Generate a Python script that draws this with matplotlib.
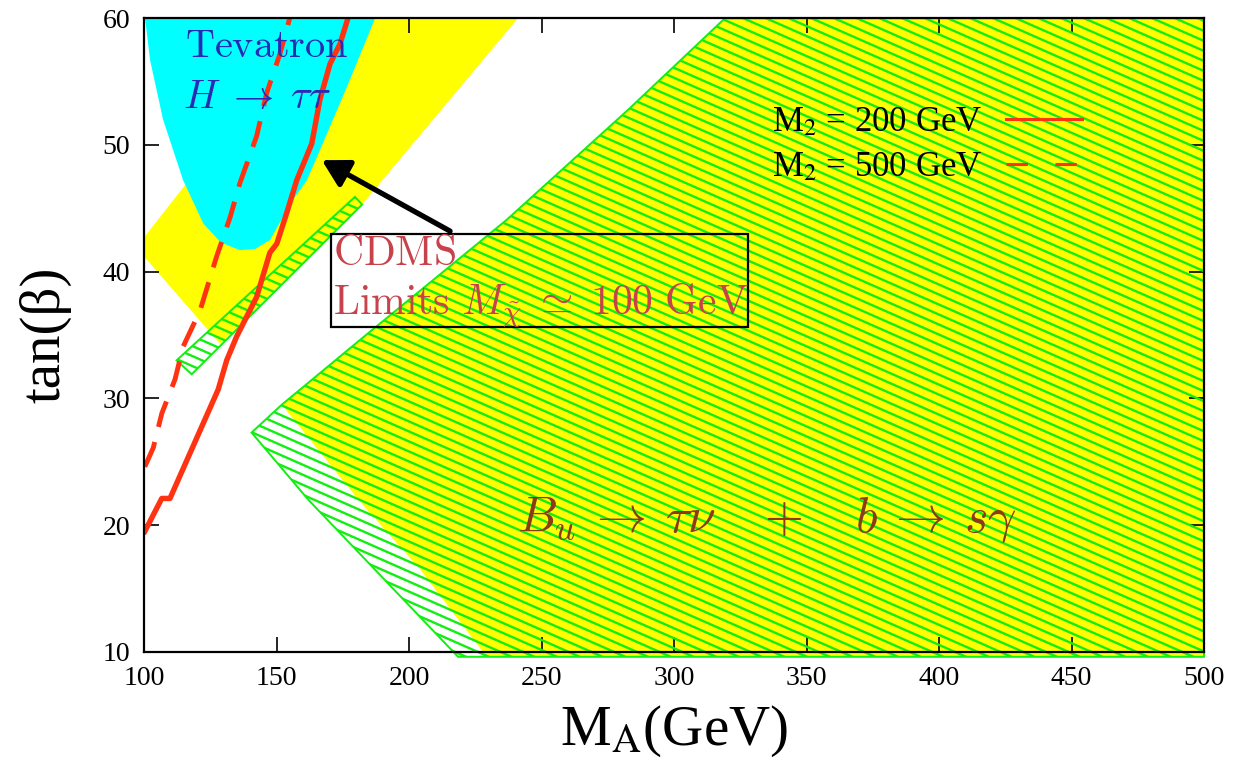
import numpy as np
import matplotlib
matplotlib.use("Agg")
import matplotlib.pyplot as plt
from matplotlib.patches import Polygon, Rectangle
from matplotlib.collections import LineCollection
from matplotlib.lines import Line2D
from matplotlib.font_manager import FontProperties

# ---------------- data ----------------
# Tevatron H -> tau tau excluded region (cyan)
tev_x = [100.4, 102.3, 107.2, 114.8, 122.4, 129.0, 136.2, 142.0, 147.5, 156.3, 161.4, 166.4, 176.6, 187.2]
tev_y = [60.0, 56.7, 52.0, 47.2, 43.8, 42.3, 41.7, 41.8, 42.5, 45.7, 47.2, 49.6, 54.6, 60.0]

# Bu -> tau nu region, left band (yellow)
bu_left_x = [100.0, 164.9, 241.1, 182.3, 128.7, 100.0]
bu_left_y = [42.7, 60.0, 60.0, 45.3, 34.3, 41.2]

# b -> s gamma narrow strip (green hatch)
bsg_strip_x = [112.3, 118.0, 182.3, 179.6]
bsg_strip_y = [33.0, 31.9, 45.3, 45.9]

# Bu -> tau nu big region (yellow)
bu_right_x = [152.0, 182.6, 236.9, 282.8, 319.2, 500.0, 500.0, 229.3, 204.2, 180.9]
bu_right_y = [29.5, 34.8, 44.1, 52.8, 60.0, 60.0, 9.6, 9.6, 16.5, 22.0]

# b -> s gamma big region (green hatch)
bsg_big_x = [140.6, 152.0, 182.6, 236.9, 282.8, 319.2, 500.0, 500.0, 218.5, 162.0]
bsg_big_y = [27.3, 29.5, 34.8, 44.1, 52.8, 60.0, 60.0, 9.6, 9.6, 22.0]

# CDMS limits, M2 = 200 GeV (solid) and M2 = 500 GeV (dashed)
m200_x = [100.3, 106.7, 109.8, 128.0, 131.2, 135.0, 142.5, 147.5, 150.1, 153.8, 157.6, 163.3, 166.4, 170.2, 174.0, 177.1]
m200_y = [19.5, 22.1, 22.1, 30.7, 33.0, 34.9, 38.0, 41.5, 42.2, 44.6, 47.2, 50.1, 53.6, 56.4, 58.0, 60.1]
m500_x = [100.3, 103.5, 106.7, 111.7, 114.8, 121.1, 127.4, 132.5, 136.2, 142.5, 146.3, 151.3, 155.1]
m500_y = [24.6, 26.1, 28.8, 31.5, 34.1, 36.9, 41.2, 44.3, 47.0, 50.7, 54.1, 57.2, 60.1]

legend_labels = ["M$_2$ = 200 GeV", "M$_2$ = 500 GeV"]
x_ticks = [100, 150, 200, 250, 300, 350, 400, 450, 500]
y_ticks = [10, 20, 30, 40, 50, 60]

box_x = [170.6, 327.8]
box_y = [35.6, 43.0]
arrow_tail = (215.5, 43.2)
arrow_head = (167.1, 48.8)

# ---------------- style ----------------
YELLOW = "#ffff00"
CYAN = "#00ffff"
GREEN = "#11ee11"
RED = "#ff3311"

fig = plt.figure(figsize=(12.35, 7.62), dpi=100)
ax = fig.add_axes([0.1166, 0.1447, 0.8583, 0.8313])
ax.set_xlim(100, 500)
ax.set_ylim(10, 60)


def hatch(ax, patch, color=GREEN, slope=-0.737, step=0.0158, lw=1.7):
    cs = np.arange(-0.1, 1.9, step)
    segs = [[(-0.05, c + slope * (-0.05)), (1.05, c + slope * 1.05)] for c in cs]
    lc = LineCollection(segs, colors=color, linewidths=lw, transform=ax.transAxes, zorder=patch.get_zorder() + 0.1)
    lc.set_clip_path(patch)
    ax.add_collection(lc, autolim=False)


# yellow regions
p = Polygon(np.column_stack([bu_left_x, bu_left_y]), closed=True, fc=YELLOW, ec="none", zorder=1)
ax.add_patch(p)
p = Polygon(np.column_stack([bu_right_x, bu_right_y]), closed=True, fc=YELLOW, ec="none", zorder=1, clip_on=False)
ax.add_patch(p)

# green hatched regions
for xs, ys in [(bsg_strip_x, bsg_strip_y), (bsg_big_x, bsg_big_y)]:
    p = Polygon(np.column_stack([xs, ys]), closed=True, fc="none", ec=GREEN, lw=1.4, zorder=2, clip_on=False)
    ax.add_patch(p)
    hatch(ax, p)

# Tevatron region
p = Polygon(np.column_stack([tev_x, tev_y]), closed=True, fc=CYAN, ec="none", zorder=3)
ax.add_patch(p)

# CDMS lines
ax.plot(m200_x, m200_y, color=RED, lw=3.9, zorder=5, solid_joinstyle="round")
ax.plot(m500_x, m500_y, color=RED, lw=3.5, dashes=(5.5, 3.2), zorder=5)

# box + arrow
ax.add_patch(Rectangle((box_x[0], box_y[0]), box_x[1] - box_x[0], box_y[1] - box_y[0],
                       fc="none", ec="black", lw=1.6, zorder=6))
ax.annotate("", xy=arrow_head, xytext=arrow_tail,
            arrowprops=dict(arrowstyle="-|>,head_length=0.8,head_width=0.45", lw=3.8,
                            color="black", shrinkA=0, shrinkB=0, mutation_scale=20), zorder=7)

# texts
ax.text(115.5, 56.97, r"$\mathrm{Tevatron}$", color="#2a2ab4", fontsize=29, math_fontfamily="cm", zorder=8)
ax.text(114.7, 52.92, r"$H\;\rightarrow\;\tau\tau$", color="#2a2ab4", fontsize=29, math_fontfamily="cm", zorder=8)
ax.text(171.3, 40.53, r"$\mathrm{CDMS}$", color="#c8424b", fontsize=30, math_fontfamily="cm", zorder=8)
ax.text(171.3, 36.59, r"$\mathrm{Limits}\ M_{\tilde{\chi}}\;\simeq\;100\ \mathrm{GeV}$", color="#c8424b",
        fontsize=30, math_fontfamily="cm", zorder=8)
ax.text(240.6, 19.48, r"$B_u\:\rightarrow\:\tau\nu\quad+\quad b\:\rightarrow\:s\gamma$", color="#8b3a1a",
        fontsize=36, math_fontfamily="cm", zorder=8)

# legend
handles = [Line2D([], [], color=RED, lw=2.2),
           Line2D([], [], color=RED, lw=2.2, dashes=(7, 9))]
leg_prop = FontProperties(family="Liberation Serif", size=25, math_fontfamily="stix")
leg = ax.legend(handles, legend_labels, loc="upper left", bbox_to_anchor=(0.592, 0.862),
                frameon=False, markerfirst=False, prop=leg_prop, handlelength=2.2,
                handletextpad=0.7, labelspacing=0.35, borderpad=0, borderaxespad=0)
leg.set_zorder(9)

# axes styling
for s in ax.spines.values():
    s.set_linewidth(1.6)
    s.set_zorder(10)
ax.set_xticks(x_ticks)
ax.set_yticks(y_ticks)
ax.tick_params(direction="in", length=11, width=1.2, top=True, right=True,
               labelsize=20, pad=10)
for lab in ax.get_xticklabels() + ax.get_yticklabels():
    lab.set_fontfamily("Liberation Serif")
ax.set_xlabel(r"M$_{\rm A}$(GeV)", fontsize=41, fontfamily="Liberation Serif",
              math_fontfamily="stix", labelpad=9)
ax.set_ylabel("tan(β)", fontsize=41, fontfamily="Liberation Serif", labelpad=22)

fig.savefig("out.png", dpi=100)
